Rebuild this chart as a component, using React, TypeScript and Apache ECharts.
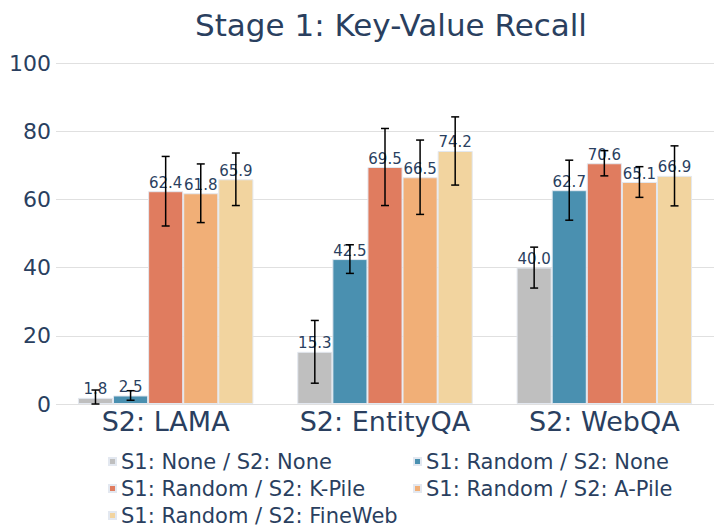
import React, { useEffect, useRef } from "react";
import * as echarts from "echarts";

const categories = ["S2: LAMA", "S2: EntityQA", "S2: WebQA"];
const seriesNames = [
  "S1: None / S2: None",
  "S1: Random / S2: None",
  "S1: Random / S2: K-Pile",
  "S1: Random / S2: A-Pile",
  "S1: Random / S2: FineWeb",
];
const noneNone = [1.8, 15.3, 40.0];
const randomNone = [2.5, 42.5, 62.7];
const randomKPile = [62.4, 69.5, 70.6];
const randomAPile = [61.8, 66.5, 65.1];
const randomFineWeb = [65.9, 74.2, 66.9];

const errNoneNone = [2.3, 9.2, 6.0];
const errRandomNone = [1.4, 4.2, 8.8];
const errRandomKPile = [10.2, 11.3, 3.7];
const errRandomAPile = [8.6, 10.9, 4.5];
const errRandomFineWeb = [7.7, 10.0, 8.8];

const yTicks = [0, 20, 40, 60, 80, 100];

const colors = ["#bfbfbf", "#4a90b0", "#e07c5f", "#f1af77", "#f2d49f"];

const values = [noneNone, randomNone, randomKPile, randomAPile, randomFineWeb];
const errors = [errNoneNone, errRandomNone, errRandomKPile, errRandomAPile, errRandomFineWeb];

const FONT = "DejaVu Sans";
const TXT = "#2a3f5f";

export default function App() {
  const ref = useRef<HTMLDivElement>(null);
  useEffect(() => {
    if (!ref.current) return;
    const chart = echarts.init(ref.current, undefined, { renderer: "svg" });
    const n = values.length;
    const barSeries = values.map((vals, i) => ({
      type: "bar",
      name: seriesNames[i],
      data: vals,
      barGap: "0%",
      barCategoryGap: "20%",
      itemStyle: { color: colors[i], borderColor: "#e3e8f0", borderWidth: 1 },
      label: {
        show: true,
        position: "top",
        distance: 1,
        formatter: (p: any) => p.value.toFixed(1),
        color: TXT,
        fontFamily: FONT,
        fontSize: 15,
      },
      z: 2,
    }));
    const errData: number[][] = [];
    values.forEach((vals, i) => {
      vals.forEach((v, j) => {
        errData.push([j, v - errors[i][j], v + errors[i][j], i]);
      });
    });
    const errSeries = {
      type: "custom",
      name: "err",
      data: errData,
      z: 10,
      renderItem: (params: any, api: any) => {
        const cat = api.value(0);
        const lo = Math.max(0, api.value(1));
        const hi = api.value(2);
        const idx = api.value(3);
        const w = api.size([1, 0])[0];
        const center = api.coord([cat, 0])[0];
        const bw = (w * 0.8) / n;
        const x = center - w * 0.4 + (idx + 0.5) * bw;
        const yLo = api.coord([cat, lo])[1];
        const yHi = api.coord([cat, hi])[1];
        const cap = 4;
        const style = { stroke: "#000", lineWidth: 1.5 };
        return {
          type: "group",
          children: [
            { type: "line", shape: { x1: x, y1: yLo, x2: x, y2: yHi }, style },
            { type: "line", shape: { x1: x - cap, y1: yHi, x2: x + cap, y2: yHi }, style },
            { type: "line", shape: { x1: x - cap, y1: yLo, x2: x + cap, y2: yLo }, style },
          ],
        };
      },
    };
    const legendCommon = {
      orient: "vertical",
      icon: "rect",
      itemWidth: 7,
      itemHeight: 7,
      itemGap: 6,
      height: 100,
      textStyle: { color: TXT, fontFamily: FONT, fontSize: 21 },
    };
    chart.setOption({
      animation: false,
      backgroundColor: "#ffffff",
      color: colors,
      title: {
        text: "Stage 1: Key-Value Recall",
        left: 386,
        top: 4,
        textAlign: "center",
        textStyle: { color: TXT, fontFamily: FONT, fontSize: 31, fontWeight: "normal" },
      },
      legend: [
        { ...legendCommon, left: 103, top: 446, data: [seriesNames[0], seriesNames[2], seriesNames[4]] },
        { ...legendCommon, left: 408, top: 446, data: [seriesNames[1], seriesNames[3]] },
      ],
      grid: { left: 56, right: -6, top: 63, bottom: 123, containLabel: false },
      xAxis: {
        type: "category",
        data: categories,
        axisLine: { show: false },
        axisTick: { show: false },
        axisLabel: { color: TXT, fontFamily: FONT, fontSize: 27, margin: 4, interval: 0, hideOverlap: false },
      },
      yAxis: {
        type: "value",
        min: yTicks[0],
        max: yTicks[yTicks.length - 1],
        interval: 20,
        axisLine: { show: false },
        axisTick: { show: false },
        axisLabel: { color: TXT, fontFamily: FONT, fontSize: 22, margin: 5 },
        splitLine: { lineStyle: { color: "#e0e0e0", width: 1 } },
      },
      series: [...barSeries, errSeries],
    });
    return () => chart.dispose();
  }, []);
  return <div ref={ref} style={{ width: 714, height: 527, position: "fixed", left: 0, top: 0 }} />;
}
